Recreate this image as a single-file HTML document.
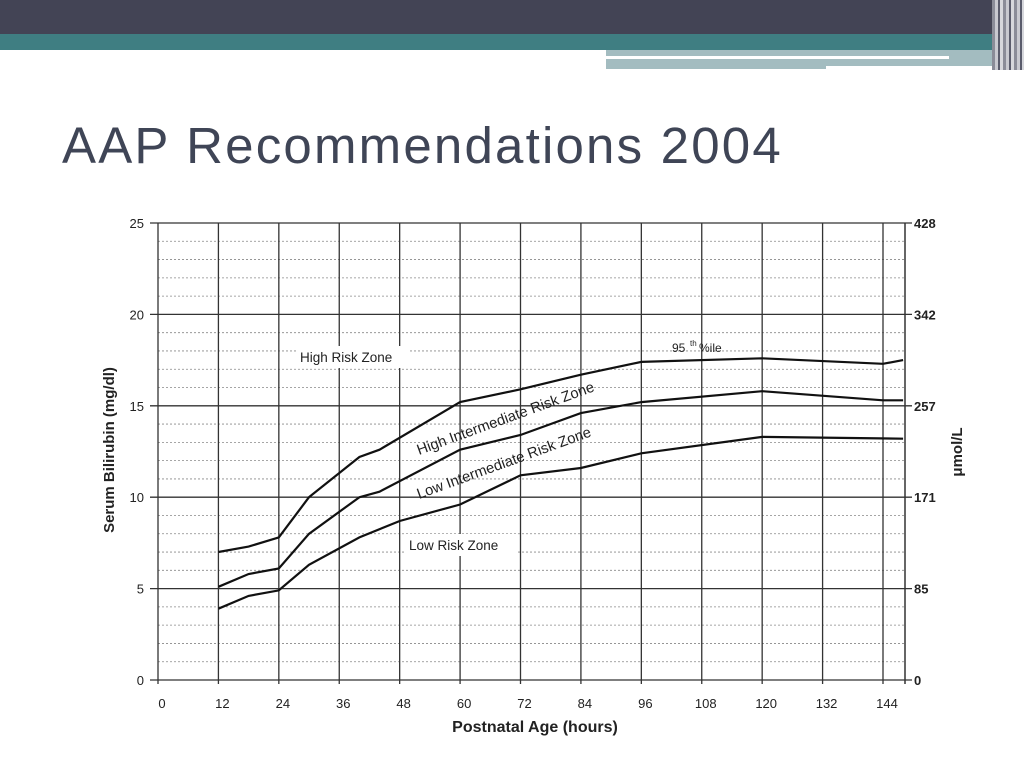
<!DOCTYPE html>
<html><head><meta charset="utf-8">
<style>
body{margin:0;width:1024px;height:768px;background:#fff;overflow:hidden;position:relative;font-family:"Liberation Sans",sans-serif}
.abs{position:absolute}
</style></head><body>
<div class="abs" style="left:0;top:0;width:1024px;height:35px;background:#434455"></div>
<div class="abs" style="left:0;top:34px;width:1024px;height:16px;background:#3f7e82"></div>
<div class="abs" style="left:606px;top:50px;width:400px;height:19px;background:#a3bcc0"></div>
<div class="abs" style="left:606px;top:56px;width:343px;height:3px;background:#fff"></div>
<div class="abs" style="left:826px;top:66px;width:180px;height:4px;background:#fff"></div>
<div class="abs" style="left:992px;top:0;width:32px;height:70px;background:repeating-linear-gradient(90deg,#8a8c98 0 3px,#c8c9d0 3px 6px,#5a5c6c 6px 8px,#d6d7dc 8px 11px)"></div>
<div class="abs" style="left:62px;top:116px;font-size:51px;letter-spacing:2.2px;color:#3f4556;white-space:nowrap">AAP Recommendations 2004</div>
<svg class="abs" style="left:0;top:0" width="1024" height="768" id="chart"></svg>
<script>
const xTicks=[0,12,24,36,48,60,72,84,96,108,120,132,144];
const yTicks=[0,5,10,15,20,25];
const yRight=["0","85","171","257","342","428"];
const p95x=[12,18,24,30,40,44,60,72,84,96,120,144,148];
const p95y=[7.0,7.3,7.8,10.0,12.2,12.6,15.2,15.9,16.7,17.4,17.6,17.3,17.5];
const p75x=[12,18,24,30,40,44,60,72,84,96,120,144,148];
const p75y=[5.1,5.8,6.1,8.0,10.0,10.3,12.6,13.4,14.6,15.2,15.8,15.3,15.3];
const p40x=[12,18,24,30,40,48,60,72,84,96,120,148];
const p40y=[3.9,4.6,4.9,6.3,7.8,8.7,9.6,11.2,11.6,12.4,13.3,13.2];
const X=h=>158+h*(883-158)/144;
const Y=v=>680-v*(680-223)/25;
const svg=document.getElementById('chart');
const NS='http://www.w3.org/2000/svg';
function mk(t,a,txt){const e=document.createElementNS(NS,t);for(const k in a)e.setAttribute(k,a[k]);if(txt!==undefined)e.textContent=txt;svg.appendChild(e);return e;}
for(let v=1;v<25;v++){if(v%5===0)continue;
const l=mk('line',{x1:X(0),x2:905,y1:Y(v),y2:Y(v),stroke:'#888','stroke-width':0.8,'stroke-dasharray':'2 2'});
}
yTicks.forEach((v,i)=>{
const l=mk('line',{x1:150,x2:912,y1:Y(v),y2:Y(v),stroke:'#333','stroke-width':1.3});

const t=mk('text',{x:144,y:Y(v)+5,'text-anchor':'end','font-size':13,fill:'#222'},String(v));

const r=mk('text',{x:914,y:Y(v)+5,'font-size':13,'font-weight':'bold',fill:'#222'},yRight[i]);

});
xTicks.forEach(h=>{
const l=mk('line',{x1:X(h),x2:X(h),y1:Y(25),y2:Y(0)+4,stroke:'#333','stroke-width':1.3});

const t=mk('text',{x:X(h)+4,y:708,'text-anchor':'middle','font-size':13,fill:'#222'},String(h));

});
const rb=mk('line',{x1:905,x2:905,y1:Y(25),y2:Y(0)+4,stroke:'#333','stroke-width':1.5});

[[300,350,'High Risk Zone',0],[409,538,'Low Risk Zone',0]].forEach(z=>{
const b=mk('rect',{x:z[0]-4,y:z[1]-4,width:112,height:22,fill:'#fff'});

const t=mk('text',{x:z[0],y:z[1]+12,'font-size':13.5,fill:'#222'},z[2]);

});
function line(xs,ys,name){
const d=xs.map((h,i)=>(i?'L':'M')+X(h).toFixed(1)+','+Y(ys[i]).toFixed(1)).join(' ');
const p=mk('path',{d:d,fill:'none',stroke:'#111','stroke-width':2.2});
}
line(p95x,p95y,'percentile-95-line');
line(p75x,p75y,'percentile-75-line');
line(p40x,p40y,'percentile-40-line');
const a=mk('text',{x:0,y:0,'font-size':14.8,fill:'#222',transform:'translate(419,455) rotate(-20)'},'High Intermediate Risk Zone');

const b2=mk('text',{x:0,y:0,'font-size':14.8,fill:'#222',transform:'translate(419,499) rotate(-20)'},'Low Intermediate Risk Zone');

const p=mk('text',{x:672,y:352,'font-size':12,fill:'#222'},'95 ');

const s=mk('text',{x:690,y:346,'font-size':8,fill:'#222'},'th');

const p2=mk('text',{x:699,y:352,'font-size':12,fill:'#222'},'%ile');

const xt=mk('text',{x:535,y:732,'text-anchor':'middle','font-size':16,'font-weight':'bold',fill:'#222'},'Postnatal Age (hours)');

const yt=mk('text',{x:0,y:0,'text-anchor':'middle','font-size':15,'font-weight':'bold',fill:'#222',transform:'translate(114,450) rotate(-90)'},'Serum Bilirubin (mg/dl)');

const yr=mk('text',{x:0,y:0,'text-anchor':'middle','font-size':15,'font-weight':'bold',fill:'#222',transform:'translate(962,452) rotate(-90)'},'μmol/L');

</script>
</body></html>
